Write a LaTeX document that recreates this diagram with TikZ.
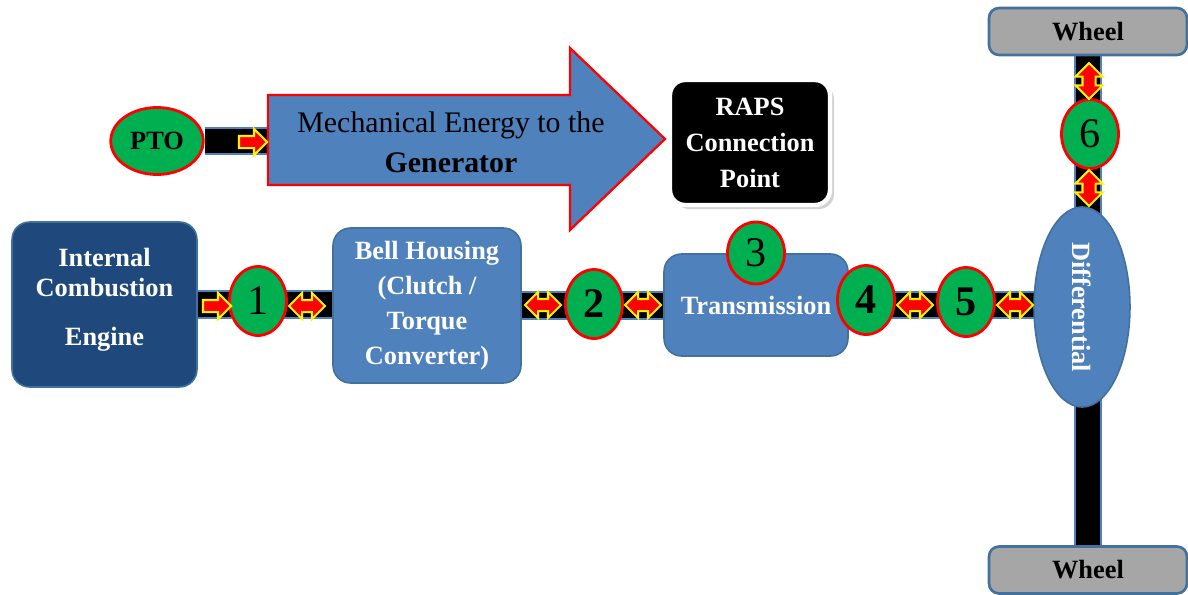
\documentclass[tikz,border=0pt]{standalone}
\usepackage{fontspec}
\setmainfont{Liberation Serif}
\usetikzlibrary{positioning}
\usetikzlibrary{shapes.geometric}
\usetikzlibrary{shapes.arrows}
\usetikzlibrary{shadows}
\usetikzlibrary{backgrounds}
\definecolor{boxblue}{HTML}{4F81BD}
\definecolor{darkbox}{HTML}{1F497D}
\definecolor{edgeblue}{HTML}{41719C}
\definecolor{markgreen}{HTML}{00B050}
\definecolor{wheelgray}{HTML}{A6A6A6}

\tikzset{
  part/.style={rectangle, rounded corners=0.35cm, fill=boxblue, draw=edgeblue,
    line width=0.9pt, text=white, align=center,
    font=\fontsize{15}{20}\selectfont\bfseries},
  wheelbox/.style={rectangle, rounded corners=0.2cm, fill=wheelgray, draw=edgeblue,
    line width=1.5pt, minimum width=3.96cm, minimum height=0.94cm,
    font=\fontsize{15}{18}\selectfont\bfseries},
  marker/.style={ellipse, fill=markgreen, draw=red, line width=1.6pt,
    minimum width=1.14cm, minimum height=1.38cm, inner sep=0pt,
    font=\fontsize{24}{24}\selectfont},
  shaft/.style={draw=boxblue, line width=1.1pt, double=black, double distance=14pt},
  onearrow/.style={single arrow, fill=red, draw=yellow, line width=1.2pt,
    inner xsep=0pt, inner ysep=0.1cm, minimum height=0.56cm,
    single arrow head extend=0.14cm},
  twoarrow/.style={double arrow, fill=red, draw=yellow, line width=1.2pt,
    inner xsep=0pt, inner ysep=0.1cm, minimum height=0.72cm,
    double arrow head extend=0.14cm}
}

\begin{document}
\begin{tikzpicture}[x=0.02cm, y=-0.02cm]
\useasboundingbox (0,0) rectangle (1188,595);

% drive line blocks
\node[part, fill=darkbox, minimum width=3.7cm, minimum height=3.3cm,
  font=\fontsize{15}{17}\selectfont\bfseries] (engine) at (104.5,304.5)
  {Internal\\Combustion\\[11pt]Engine\\[-8pt]\mbox{}};
\node[part, minimum width=3.76cm, minimum height=3.1cm] (bell) at (427,305.5)
  {Bell Housing\\(Clutch /\\Torque\\Converter)};
\node[part, minimum width=3.68cm, minimum height=2.04cm] (trans) at (756,305)
  {Transmission};
\node[ellipse, fill=boxblue, draw=edgeblue, line width=0.9pt, text=white,
  rotate=-90, minimum width=3.94cm, minimum height=1.92cm,
  font=\fontsize{15}{18}\selectfont\bfseries] (diff) at (1082,307) {Differential};

\node[wheelbox] (wtop) at (1088,31.5) {Wheel};
\node[wheelbox] (wbot) at (1088,570) {Wheel};

% power take off
\node[ellipse, fill=markgreen, draw=red, line width=1.6pt, minimum width=1.7cm,
  minimum height=1.34cm, font=\fontsize{15}{18}\selectfont\bfseries] (pto) at (157,141) {PTO};

\draw[fill=boxblue, draw=red, line width=1.3pt]
(268,95)--(570,95)--(570,48)--(665,139)--(570,230)--(570,185)--(268,185)--cycle;
\coordinate (bodyin) at (268,141);
\node[align=center, font=\fontsize{17}{23}\selectfont] (energy) at (451,142.5)
  {Mechanical Energy to the\\\textbf{Generator}};

\node[rectangle, rounded corners=0.3cm, fill=black, draw=white, line width=2.5pt,
  drop shadow={opacity=0.35}, text=white, align=center,
  minimum width=3.2cm, minimum height=2.5cm,
  font=\fontsize{15}{20.5}\selectfont\bfseries] (raps) at (750,142.5)
  {RAPS\\Connection\\Point};

% numbered points
\node[marker] (m1) at (258,301) {1};
\node[marker] (m2) at (594,304) {\bfseries 2};
\node[marker, minimum height=1.24cm] (m3) at (756,253) {3};
\node[marker] (m4) at (866,300) {\bfseries 4};
\node[marker] (m5) at (966,302) {\bfseries 5};
\node[marker] (m6) at (1090,134) {6};

% flow arrows
\node[onearrow] (a0) at (250,142) {};
\node[onearrow] (a1) at (214,306) {};
\node[twoarrow] (a2) at (307,306) {};
\node[twoarrow] (a3) at (543,305) {};
\node[twoarrow] (a4) at (643,305) {};
\node[twoarrow] (a5) at (915,305) {};
\node[twoarrow] (a6) at (1015,305) {};
\node[twoarrow, rotate=90, inner ysep=0.11cm] (a7) at (1089,81) {};
\node[twoarrow, rotate=90, inner ysep=0.11cm] (a8) at (1089,188) {};

\begin{scope}[on background layer]
\draw[shaft] (pto.east) -- (bodyin);
\draw[shaft] (engine.east) -- (engine.east -| bell.west);
\draw[shaft] (bell.east) -- (bell.east -| trans.west);
\draw[shaft] (trans.east) -- (trans.east -| diff.center);
\draw[shaft] (wtop.south) -- (wbot.north);
\end{scope}

\end{tikzpicture}
\end{document}
